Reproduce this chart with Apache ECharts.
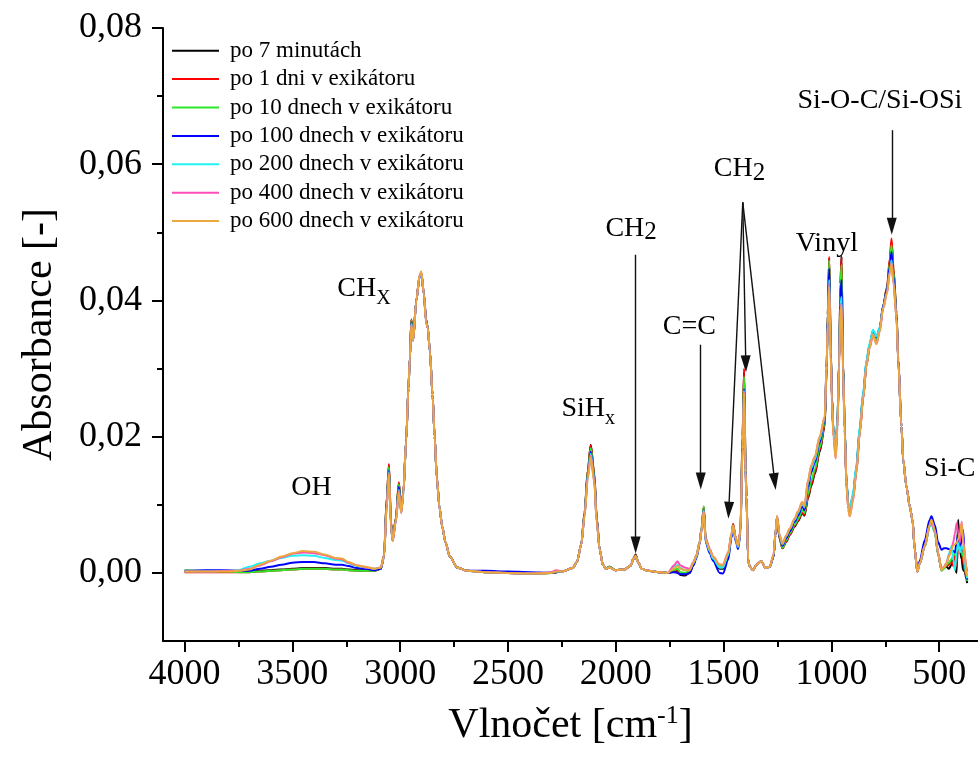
<!DOCTYPE html>
<html>
<head>
<meta charset="utf-8">
<script src="https://cdn.jsdelivr.net/npm/echarts@6/dist/echarts.min.js"></script>
<style>
  html, body { margin: 0; padding: 0; background: #fff; }
  #main { width: 978px; height: 767px; }
</style>
</head>
<body>
<div id="main"></div>
<script>
// FTIR absorbance spectra of one film after different storage times in a desiccator.

const SERIES_NAMES = [
  'po 7 minutách',
  'po 1 dni v exikátoru',
  'po 10 dnech v exikátoru',
  'po 100 dnech v exikátoru',
  'po 200 dnech v exikátoru',
  'po 400 dnech v exikátoru',
  'po 600 dnech v exikátoru'
];
const SERIES_COLORS = ['#000000', '#ff0000', '#2be82b', '#0000ff', '#22f2f2', '#ff4db8', '#eba83e'];

// Wavenumber grid [cm-1], shared by all spectra
const WAVENUMBER = [
  4000,3900,3800,3750,3700,3650,3600,3550,3500,3450,
  3400,3350,3300,3270,3240,3200,3160,3120,3090,3075,
  3062,3052,3043,3035,3020,3006,2995,2985,2972,2962,
  2955,2948,2940,2925,2910,2902,2890,2880,2872,2862,
  2850,2840,2830,2818,2805,2790,2770,2735,2690,2600,
  2500,2400,2300,2275,2250,2200,2180,2160,2145,2130,
  2116,2100,2088,2075,2060,2045,2030,2000,1960,1930,
  1918,1908,1895,1880,1850,1800,1760,1730,1714,1700,
  1680,1657,1640,1626,1611,1602,1592,1583,1564,1549,
  1518,1503,1479,1463,1456,1443,1433,1422,1412,1405,
  1398,1394,1386,1379,1363,1348,1325,1305,1286,1268,
  1260,1252,1240,1227,1209,1193,1170,1155,1135,1125,
  1108,1093,1077,1054,1031,1022,1017,1010,1003,998,
  990,980,972,964,958,953,946,938,930,922,
  915,900,885,868,853,837,823,807,791,776,
  760,742,729,721,712,698,690,675,667,652,
  636,624,613,602,590,567,544,536,520,505,
  489,478,466,455,443,435,427,419,412,404,
  396,389,381,375,370
];

const ABS_7_MIN = [
  .0002,.0002,.0002,.0002,.0002,.0003,.0004,.0005,.0006,.0007,
  .0007,.0007,.0006,.0006,.0005,.0004,.0004,.0003,.0006,.0025,
  .0110,.0158,.0075,.0048,.0080,.0132,.0092,.0120,.0195,.0270,
  .0315,.0372,.0342,.0400,.0436,.0440,.0410,.0372,.0360,.0325,
  .0262,.0200,.0140,.0097,.0068,.0045,.0024,.0008,.0003,.0001,
  .0000,-.0001,.0000,.0001,.0002,.0007,.0016,.0042,.0088,.0150,
  .0188,.0146,.0080,.0035,.0012,.0006,.0009,.0004,.0005,.0011,
  .0021,.0027,.0015,.0006,.0003,.0001,.0000,.0002,.0002,-.0003,
  -.0004,.0000,.0012,.0024,.0044,.0065,.0096,.0048,.0032,.0020,
  .0006,.0006,.0024,.0055,.0070,.0050,.0039,.0060,.0200,.0295,
  .0160,.0112,.0019,.0009,.0004,.0012,.0017,.0007,.0009,.0024,
  .0055,.0082,.0050,.0036,.0046,.0056,.0068,.0076,.0088,.0084,
  .0110,.0128,.0145,.0178,.0215,.0300,.0380,.0462,.0330,.0260,
  .0205,.0178,.0220,.0310,.0425,.0465,.0310,.0210,.0132,.0100,
  .0090,.0110,.0148,.0208,.0257,.0306,.0332,.0354,.0341,.0357,
  .0391,.0418,.0458,.0485,.0445,.0381,.0314,.0215,.0166,.0127,
  .0097,.0078,.0034,.0002,.0014,.0039,.0070,.0076,.0061,.0027,
  .0004,.0008,.0009,.0006,.0012,.0019,.0008,.0000,.0078,.0034,
  .0020,.0004,.0002,-.0008,-.0015
];

const ABS_1_DAY = [
  .0001,.0001,.0001,.0001,.0001,.0002,.0003,.0004,.0005,.0006,
  .0006,.0006,.0005,.0005,.0004,.0003,.0003,.0003,.0006,.0025,
  .0112,.0160,.0076,.0049,.0081,.0133,.0093,.0121,.0195,.0270,
  .0315,.0372,.0342,.0400,.0436,.0440,.0410,.0372,.0360,.0325,
  .0262,.0200,.0140,.0097,.0068,.0045,.0024,.0008,.0003,.0001,
  .0000,-.0001,.0000,.0001,.0002,.0007,.0016,.0042,.0088,.0150,
  .0187,.0146,.0080,.0035,.0012,.0006,.0009,.0004,.0005,.0011,
  .0021,.0026,.0015,.0006,.0003,.0001,.0000,.0003,.0004,-.0001,
  -.0002,.0002,.0014,.0025,.0045,.0066,.0097,.0050,.0034,.0022,
  .0008,.0008,.0026,.0057,.0072,.0051,.0040,.0061,.0203,.0300,
  .0162,.0112,.0019,.0009,.0004,.0012,.0017,.0007,.0009,.0024,
  .0055,.0082,.0050,.0036,.0046,.0056,.0069,.0077,.0089,.0085,
  .0112,.0130,.0147,.0180,.0217,.0301,.0380,.0464,.0331,.0261,
  .0205,.0176,.0219,.0310,.0424,.0463,.0310,.0210,.0132,.0100,
  .0090,.0110,.0148,.0208,.0257,.0306,.0332,.0354,.0342,.0358,
  .0392,.0420,.0462,.0491,.0448,.0382,.0315,.0215,.0166,.0127,
  .0097,.0078,.0034,.0002,.0014,.0039,.0069,.0074,.0060,.0028,
  .0004,.0007,.0010,.0012,.0018,.0010,.0025,.0010,.0050,.0030,
  .0040,.0015,.0005,-.0003,-.0010
];

const ABS_10_DAYS = [
  .0004,.0003,.0002,.0001,.0001,.0002,.0003,.0004,.0005,.0006,
  .0006,.0006,.0005,.0005,.0004,.0003,.0003,.0003,.0006,.0024,
  .0108,.0155,.0074,.0048,.0079,.0130,.0091,.0119,.0195,.0270,
  .0315,.0371,.0342,.0400,.0435,.0439,.0410,.0371,.0360,.0325,
  .0262,.0200,.0140,.0097,.0068,.0045,.0024,.0008,.0003,.0001,
  .0000,-.0001,.0000,.0001,.0002,.0007,.0016,.0042,.0087,.0148,
  .0183,.0143,.0078,.0035,.0012,.0006,.0009,.0004,.0005,.0011,
  .0021,.0025,.0015,.0006,.0003,.0001,.0000,.0004,.0006,.0001,
  .0000,.0003,.0015,.0026,.0046,.0067,.0098,.0050,.0034,.0022,
  .0008,.0008,.0026,.0056,.0070,.0050,.0039,.0060,.0196,.0288,
  .0157,.0112,.0019,.0009,.0004,.0012,.0017,.0007,.0009,.0025,
  .0055,.0082,.0051,.0037,.0048,.0058,.0071,.0079,.0092,.0088,
  .0116,.0135,.0152,.0184,.0220,.0302,.0378,.0459,.0329,.0260,
  .0206,.0180,.0222,.0311,.0418,.0452,.0308,.0210,.0133,.0100,
  .0090,.0111,.0150,.0210,.0259,.0308,.0333,.0354,.0343,.0358,
  .0391,.0417,.0455,.0481,.0442,.0380,.0313,.0215,.0166,.0127,
  .0097,.0078,.0034,.0002,.0014,.0039,.0068,.0072,.0059,.0028,
  .0003,.0006,.0012,.0015,.0020,.0025,.0028,.0040,.0058,.0035,
  .0030,.0025,.0010,-.0002,-.0012
];

const ABS_100_DAYS = [
  .0003,.0004,.0004,.0003,.0003,.0006,.0009,.0012,.0015,.0016,
  .0016,.0014,.0012,.0012,.0010,.0007,.0006,.0004,.0006,.0023,
  .0104,.0150,.0072,.0047,.0077,.0126,.0089,.0118,.0195,.0270,
  .0315,.0368,.0341,.0400,.0434,.0438,.0410,.0370,.0360,.0325,
  .0262,.0200,.0140,.0097,.0068,.0045,.0024,.0008,.0003,.0003,
  .0002,.0001,.0000,.0001,.0002,.0007,.0016,.0042,.0085,.0144,
  .0178,.0139,.0076,.0035,.0012,.0006,.0008,.0004,.0005,.0011,
  .0021,.0022,.0015,.0006,.0003,.0001,.0000,.0001,.0000,-.0002,
  -.0002,.0000,.0011,.0022,.0042,.0063,.0093,.0045,.0029,.0018,
  .0000,-.0001,.0019,.0052,.0066,.0046,.0035,.0056,.0185,.0270,
  .0150,.0112,.0019,.0009,.0004,.0012,.0017,.0007,.0009,.0024,
  .0055,.0082,.0052,.0040,.0051,.0061,.0075,.0084,.0098,.0092,
  .0126,.0148,.0162,.0192,.0224,.0303,.0372,.0447,.0325,.0258,
  .0207,.0185,.0225,.0311,.0405,.0430,.0305,.0210,.0134,.0102,
  .0092,.0114,.0153,.0213,.0262,.0311,.0335,.0356,.0346,.0360,
  .0392,.0416,.0450,.0471,.0436,.0378,.0313,.0215,.0166,.0127,
  .0097,.0078,.0034,.0004,.0018,.0048,.0078,.0083,.0070,.0045,
  .0034,.0036,.0036,.0035,.0034,.0032,.0030,.0045,.0058,.0034,
  .0050,.0063,.0020,.0000,-.0010
];

const ABS_200_DAYS = [
  .0002,.0002,.0003,.0004,.0009,.0014,.0018,.0022,.0025,.0026,
  .0025,.0022,.0019,.0018,.0014,.0010,.0008,.0006,.0008,.0024,
  .0102,.0148,.0071,.0047,.0076,.0122,.0088,.0118,.0195,.0270,
  .0315,.0366,.0341,.0400,.0435,.0439,.0410,.0369,.0360,.0325,
  .0262,.0200,.0140,.0097,.0068,.0045,.0024,.0008,.0003,.0001,
  .0000,-.0001,.0001,.0002,.0002,.0007,.0016,.0042,.0084,.0142,
  .0175,.0137,.0075,.0035,.0012,.0006,.0008,.0004,.0005,.0011,
  .0021,.0024,.0015,.0006,.0003,.0001,.0000,.0008,.0012,.0007,
  .0004,.0005,.0014,.0024,.0044,.0064,.0092,.0047,.0032,.0021,
  .0008,.0008,.0026,.0055,.0068,.0049,.0038,.0059,.0183,.0268,
  .0149,.0112,.0019,.0009,.0004,.0012,.0017,.0007,.0009,.0026,
  .0056,.0083,.0054,.0042,.0054,.0064,.0078,.0088,.0102,.0096,
  .0132,.0154,.0166,.0196,.0227,.0304,.0366,.0430,.0322,.0257,
  .0208,.0188,.0227,.0311,.0390,.0405,.0302,.0212,.0136,.0104,
  .0093,.0117,.0156,.0216,.0265,.0313,.0337,.0357,.0347,.0360,
  .0390,.0412,.0443,.0459,.0428,.0375,.0312,.0215,.0166,.0127,
  .0097,.0078,.0034,.0002,.0014,.0039,.0068,.0072,.0060,.0029,
  .0005,.0008,.0014,.0028,.0039,.0020,.0004,.0030,.0044,.0030,
  .0040,.0035,.0012,.0000,-.0008
];

const ABS_400_DAYS = [
  .0002,.0002,.0003,.0003,.0006,.0011,.0017,.0023,.0028,.0030,
  .0029,.0026,.0021,.0020,.0015,.0011,.0008,.0006,.0008,.0024,
  .0100,.0146,.0070,.0047,.0076,.0120,.0088,.0118,.0195,.0270,
  .0315,.0365,.0341,.0400,.0436,.0441,.0410,.0369,.0360,.0325,
  .0262,.0200,.0140,.0097,.0068,.0045,.0024,.0008,.0003,.0001,
  .0000,-.0001,.0001,.0004,.0002,.0007,.0016,.0042,.0083,.0140,
  .0172,.0135,.0074,.0035,.0012,.0006,.0008,.0004,.0005,.0011,
  .0021,.0024,.0015,.0006,.0003,.0001,.0000,.0011,.0017,.0011,
  .0008,.0006,.0016,.0026,.0045,.0064,.0091,.0049,.0035,.0024,
  .0012,.0012,.0030,.0058,.0069,.0050,.0040,.0061,.0182,.0266,
  .0148,.0112,.0019,.0009,.0004,.0012,.0017,.0007,.0009,.0027,
  .0057,.0083,.0055,.0043,.0055,.0065,.0080,.0090,.0104,.0098,
  .0136,.0158,.0170,.0200,.0229,.0305,.0364,.0425,.0320,.0255,
  .0200,.0168,.0214,.0305,.0383,.0396,.0298,.0206,.0128,.0094,
  .0083,.0106,.0145,.0205,.0255,.0305,.0330,.0350,.0336,.0354,
  .0388,.0411,.0442,.0455,.0426,.0374,.0310,.0215,.0166,.0127,
  .0097,.0078,.0034,.0002,.0014,.0040,.0070,.0074,.0062,.0030,
  .0005,.0009,.0015,.0025,.0035,.0045,.0058,.0073,.0060,.0044,
  .0075,.0050,.0024,.0010,.0002
];

const ABS_600_DAYS = [
  .0002,.0002,.0002,.0003,.0005,.0012,.0018,.0024,.0029,.0032,
  .0031,.0027,.0022,.0021,.0016,.0011,.0009,.0006,.0008,.0024,
  .0098,.0145,.0070,.0047,.0076,.0118,.0088,.0118,.0195,.0270,
  .0315,.0364,.0341,.0400,.0437,.0443,.0410,.0368,.0360,.0325,
  .0262,.0200,.0140,.0097,.0068,.0045,.0024,.0008,.0003,.0001,
  .0000,-.0001,.0000,.0002,.0002,.0007,.0016,.0042,.0082,.0138,
  .0170,.0133,.0073,.0035,.0012,.0006,.0008,.0004,.0005,.0011,
  .0021,.0024,.0015,.0006,.0003,.0001,.0000,.0006,.0010,.0006,
  .0004,.0004,.0015,.0025,.0044,.0063,.0090,.0048,.0034,.0024,
  .0012,.0012,.0029,.0058,.0069,.0050,.0040,.0061,.0181,.0264,
  .0147,.0112,.0019,.0009,.0004,.0012,.0017,.0007,.0009,.0027,
  .0057,.0083,.0055,.0043,.0055,.0065,.0080,.0090,.0104,.0098,
  .0136,.0158,.0171,.0200,.0229,.0305,.0362,.0420,.0318,.0254,
  .0199,.0168,.0214,.0305,.0381,.0393,.0297,.0205,.0128,.0094,
  .0083,.0106,.0145,.0205,.0255,.0305,.0330,.0350,.0336,.0354,
  .0388,.0411,.0441,.0454,.0425,.0374,.0310,.0215,.0166,.0127,
  .0097,.0078,.0034,.0002,.0014,.0040,.0071,.0078,.0063,.0029,
  .0004,.0008,.0014,.0024,.0034,.0040,.0042,.0044,.0050,.0058,
  .0073,.0045,.0029,.0006,-.0005
];

const SPECTRA = [ABS_7_MIN, ABS_1_DAY, ABS_10_DAYS, ABS_100_DAYS, ABS_200_DAYS, ABS_400_DAYS, ABS_600_DAYS];

// Axis ticks
const X_TICKS = [4000, 3500, 3000, 2500, 2000, 1500, 1000, 500];
const X_MINOR_TICKS = [3750, 3250, 2750, 2250, 1750, 1250, 750];
const Y_TICKS = [0, 0.02, 0.04, 0.06, 0.08];
const Y_MINOR_TICKS = [0.01, 0.03, 0.05, 0.07];

// Band assignments (text anchored at wavenumber / absorbance)
const BAND_TEXT = ['{m|OH}', '{m|CH}{s|X}', '{m|SiH}{s|x}', '{n|CH}{t|2}', '{m|C=C}', '{n|CH}{t|2}', '{m|Vinyl}', '{m|Si-O-C/Si-OSi}', '{m|Si-C}'];
const BAND_WN  = [3411, 3168, 2128, 1929, 1659, 1426, 1021, 775, 451];
const BAND_ABS = [0.0125, 0.0418, 0.0241, 0.0505, 0.0361, 0.0593, 0.0484, 0.0694, 0.0153];

// Arrows pointing at bands: start and tip
const ARROW_FROM = [[1908, 0.0467], [1606, 0.0335], [1411, 0.0544], [1411, 0.0544], [1411, 0.0544], [720, 0.0650]];
const ARROW_TO   = [[1908, 0.0041], [1606, 0.0135], [1397, 0.0307], [1476, 0.0092], [1263, 0.0134], [720, 0.0509]];

const FONT = '"Liberation Serif", "Times New Roman", Times, serif';

const chart = echarts.init(document.getElementById('main'), null, { renderer: 'canvas' });

const spectrumSeries = SERIES_NAMES.map((name, k) => ({
  name: name,
  type: 'line',
  xAxisIndex: 0,
  yAxisIndex: 0,
  data: WAVENUMBER.map((w, i) => [w, SPECTRA[k][i]]),
  symbol: 'none',
  showSymbol: false,
  smooth: 0.3,
  smoothMonotone: 'x',
  lineStyle: { color: SERIES_COLORS[k], width: 2 },
  itemStyle: { color: SERIES_COLORS[k] },
  emphasis: { disabled: true },
  z: 2 + k
}));

const bandSeries = {
  name: 'bands',
  type: 'scatter',
  xAxisIndex: 0,
  yAxisIndex: 0,
  symbolSize: 1,
  itemStyle: { color: 'rgba(0,0,0,0)' },
  silent: true,
  z: 20,
  data: BAND_WN.map((w, i) => ({
    value: [w, BAND_ABS[i]],
    label: { formatter: BAND_TEXT[i] }
  })),
  label: {
    show: true,
    position: 'inside',
    opacity: 1,
    color: '#000',
    fontFamily: FONT,
    rich: {
      m: { fontFamily: FONT, fontSize: 28, color: '#000', lineHeight: 41, verticalAlign: 'middle' },
      s: { fontFamily: FONT, fontSize: 20, color: '#000', lineHeight: 41, verticalAlign: 'bottom' },
      n: { fontFamily: FONT, fontSize: 28, color: '#000', lineHeight: 33, verticalAlign: 'middle' },
      t: { fontFamily: FONT, fontSize: 25, color: '#000', lineHeight: 33, verticalAlign: 'bottom' }
    }
  },
  markLine: {
    silent: true,
    animation: false,
    symbol: ['none', 'triangle'],
    lineStyle: { color: '#111', width: 1.4, type: 'solid' },
    label: { show: false },
    emphasis: { disabled: true },
    data: ARROW_FROM.map((p, i) => [
      { coord: p, symbol: 'none' },
      { coord: ARROW_TO[i], symbol: 'triangle', symbolSize: [10, 17] }
    ])
  }
};

const axisCommon = {
  type: 'value',
  splitLine: { show: false },
  axisLine: { show: true, onZero: false, lineStyle: { color: '#000', width: 2 } }
};

const option = {
  backgroundColor: '#ffffff',
  animation: false,
  grid: { left: 163, right: 0, top: 28, bottom: 126, containLabel: false },
  legend: {
    data: SERIES_NAMES,
    orient: 'vertical',
    left: 172,
    top: 36.5,
    padding: 0,
    itemGap: 0,
    icon: 'rect',
    itemWidth: 47,
    itemHeight: 2,
    textStyle: { fontFamily: FONT, fontSize: 23, color: '#000', lineHeight: 28.4, padding: [0, 0, 0, 6] },
    selectedMode: false
  },
  xAxis: [
    Object.assign({}, axisCommon, {
      min: 320, max: 4100, inverse: true, position: 'bottom',
      axisTick: { show: true, customValues: X_TICKS, length: 11, lineStyle: { color: '#000', width: 2 } },
      axisLabel: {
        customValues: X_TICKS, margin: 16, color: '#000', fontFamily: FONT, fontSize: 36,
        formatter: v => String(v)
      },
      name: 'Vlnočet [cm{sup|-1}]',
      nameLocation: 'middle',
      nameGap: 62,
      nameTextStyle: {
        fontFamily: FONT, fontSize: 42, color: '#000', lineHeight: 46,
        rich: { sup: { fontFamily: FONT, fontSize: 26, color: '#000', lineHeight: 46, verticalAlign: 'top' } }
      }
    }),
    Object.assign({}, axisCommon, {
      min: 320, max: 4100, inverse: true, position: 'bottom',
      axisLine: { show: false, onZero: false },
      axisTick: { show: true, customValues: X_MINOR_TICKS, length: 6, lineStyle: { color: '#000', width: 2 } },
      axisLabel: { show: false }
    })
  ],
  yAxis: [
    Object.assign({}, axisCommon, {
      min: -0.01, max: 0.08, position: 'left',
      axisTick: { show: true, customValues: Y_TICKS, length: 11, lineStyle: { color: '#000', width: 2 } },
      axisLabel: {
        customValues: Y_TICKS, margin: 21, color: '#000', fontFamily: FONT, fontSize: 36,
        formatter: v => v.toFixed(2).replace('.', ',')
      },
      name: 'Absorbance [-]',
      nameLocation: 'middle',
      nameGap: 102,
      nameTextStyle: { fontFamily: FONT, fontSize: 42, color: '#000' }
    }),
    Object.assign({}, axisCommon, {
      min: -0.01, max: 0.08, position: 'left',
      axisLine: { show: false, onZero: false },
      axisTick: { show: true, customValues: Y_MINOR_TICKS, length: 6, lineStyle: { color: '#000', width: 2 } },
      axisLabel: { show: false }
    })
  ],
  series: spectrumSeries.concat([bandSeries])
};

chart.setOption(option);
</script>
</body>
</html>
